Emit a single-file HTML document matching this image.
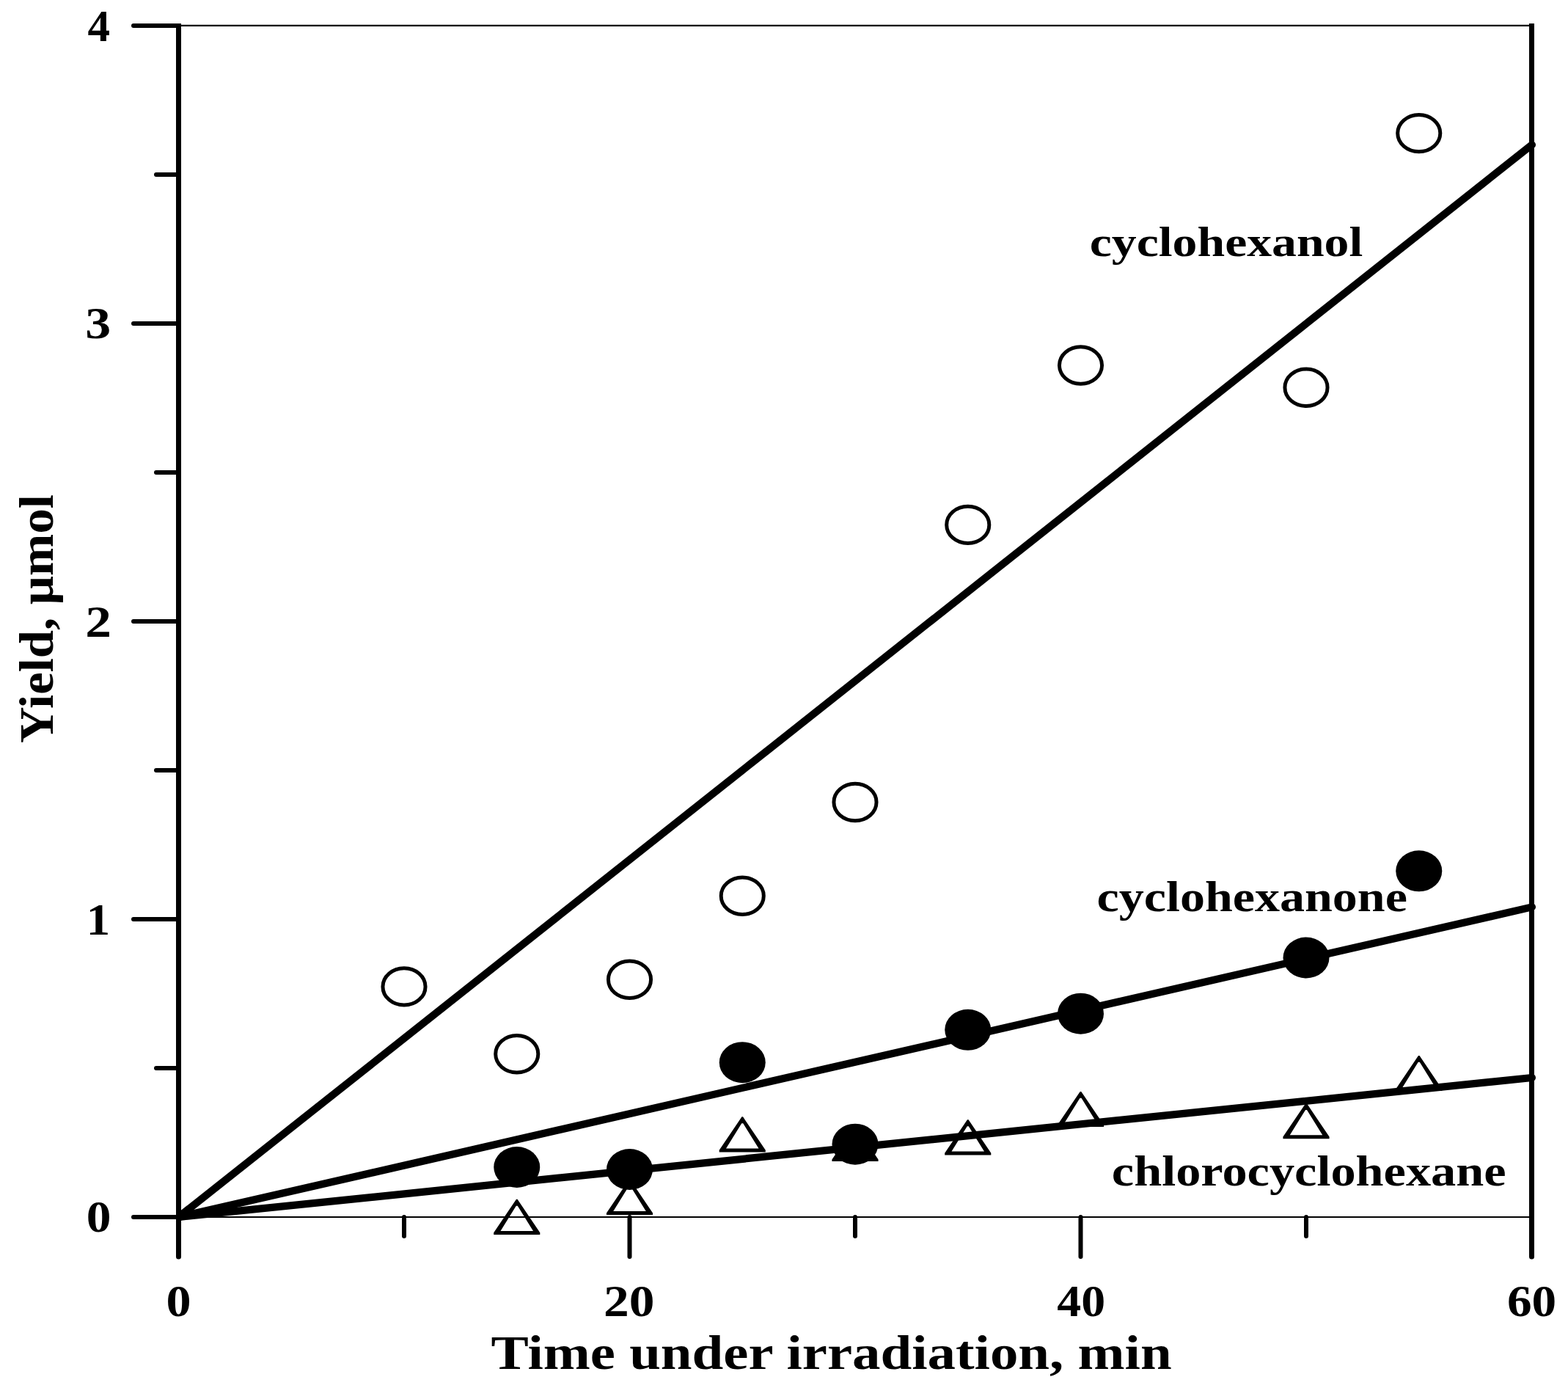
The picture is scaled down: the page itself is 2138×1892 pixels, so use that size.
<!DOCTYPE html>
<html><head><meta charset="utf-8"><title>Yield vs time</title><style>html,body{margin:0;padding:0;background:#fff;}svg{display:block;}</style></head><body>
<svg width="2138" height="1892" viewBox="0 0 2138 1892">
<rect width="2138" height="1892" fill="#fff"/>
<line x1="243.5" y1="34.8" x2="2088.5" y2="34.8" stroke="#000" stroke-width="2.2"/>
<line x1="243.5" y1="1659.0" x2="2088.5" y2="1659.0" stroke="#000" stroke-width="2.2"/>
<line x1="243.5" y1="32" x2="243.5" y2="1713" stroke="#000" stroke-width="7.0"/>
<circle cx="243.5" cy="1713" r="3.5" fill="#000"/>
<line x1="2088.5" y1="32" x2="2088.5" y2="1713" stroke="#000" stroke-width="7.0"/>
<circle cx="2088.5" cy="1713" r="3.5" fill="#000"/>
<line x1="182" y1="1659.0" x2="243.5" y2="1659.0" stroke="#000" stroke-width="6" stroke-linecap="round"/>
<line x1="182" y1="1253.0" x2="243.5" y2="1253.0" stroke="#000" stroke-width="6" stroke-linecap="round"/>
<line x1="182" y1="847.0" x2="243.5" y2="847.0" stroke="#000" stroke-width="6" stroke-linecap="round"/>
<line x1="182" y1="441.0" x2="243.5" y2="441.0" stroke="#000" stroke-width="6" stroke-linecap="round"/>
<line x1="182" y1="35.0" x2="243.5" y2="35.0" stroke="#000" stroke-width="6" stroke-linecap="round"/>
<line x1="213" y1="1456.0" x2="243.5" y2="1456.0" stroke="#000" stroke-width="6" stroke-linecap="round"/>
<line x1="213" y1="1050.0" x2="243.5" y2="1050.0" stroke="#000" stroke-width="6" stroke-linecap="round"/>
<line x1="213" y1="644.0" x2="243.5" y2="644.0" stroke="#000" stroke-width="6" stroke-linecap="round"/>
<line x1="213" y1="238.0" x2="243.5" y2="238.0" stroke="#000" stroke-width="6" stroke-linecap="round"/>
<line x1="858.5" y1="1659.0" x2="858.5" y2="1713" stroke="#000" stroke-width="6" stroke-linecap="round"/>
<line x1="1473.5" y1="1659.0" x2="1473.5" y2="1713" stroke="#000" stroke-width="6" stroke-linecap="round"/>
<line x1="551.0" y1="1659.0" x2="551.0" y2="1685" stroke="#000" stroke-width="6" stroke-linecap="round"/>
<line x1="1166.0" y1="1659.0" x2="1166.0" y2="1685" stroke="#000" stroke-width="6" stroke-linecap="round"/>
<line x1="1781.0" y1="1659.0" x2="1781.0" y2="1685" stroke="#000" stroke-width="6" stroke-linecap="round"/>
<line x1="246.5" y1="1656.62" x2="2088.9" y2="197.3" stroke="#000" stroke-width="10.2" stroke-linecap="round"/>
<line x1="246.5" y1="1658.31" x2="2088.9" y2="1236.4" stroke="#000" stroke-width="10.2" stroke-linecap="round"/>
<line x1="246.5" y1="1658.69" x2="2088.9" y2="1469.0" stroke="#000" stroke-width="10.2" stroke-linecap="round"/>
<path d="M703.95,1634.80 L705.55,1634.80 L736.30,1680.25 L736.30,1682.90 L673.20,1682.90 L673.20,1680.25 Z M703.75,1643.70 L705.75,1643.70 L727.00,1677.90 L682.50,1677.90 Z" fill="#000" fill-rule="evenodd"/>
<path d="M857.70,1607.95 L859.30,1607.95 L890.05,1653.40 L890.05,1656.05 L826.95,1656.05 L826.95,1653.40 Z M857.50,1616.85 L859.50,1616.85 L880.75,1651.05 L836.25,1651.05 Z" fill="#000" fill-rule="evenodd"/>
<path d="M1011.45,1522.35 L1013.05,1522.35 L1043.80,1567.80 L1043.80,1570.45 L980.70,1570.45 L980.70,1567.80 Z M1011.25,1531.25 L1013.25,1531.25 L1034.50,1565.45 L990.00,1565.45 Z" fill="#000" fill-rule="evenodd"/>
<path d="M1165.20,1534.95 L1166.80,1534.95 L1197.55,1580.40 L1197.55,1583.05 L1134.45,1583.05 L1134.45,1580.40 Z M1165.00,1543.85 L1167.00,1543.85 L1188.25,1578.05 L1143.75,1578.05 Z" fill="#000" fill-rule="evenodd"/>
<path d="M1318.95,1526.30 L1320.55,1526.30 L1351.30,1571.75 L1351.30,1574.40 L1288.20,1574.40 L1288.20,1571.75 Z M1318.75,1535.20 L1320.75,1535.20 L1342.00,1569.40 L1297.50,1569.40 Z" fill="#000" fill-rule="evenodd"/>
<path d="M1472.70,1487.90 L1474.30,1487.90 L1505.05,1533.35 L1505.05,1536.00 L1441.95,1536.00 L1441.95,1533.35 Z M1472.50,1496.80 L1474.50,1496.80 L1495.75,1531.00 L1451.25,1531.00 Z" fill="#000" fill-rule="evenodd"/>
<path d="M1780.20,1504.10 L1781.80,1504.10 L1812.55,1549.55 L1812.55,1552.20 L1749.45,1552.20 L1749.45,1549.55 Z M1780.00,1513.00 L1782.00,1513.00 L1803.25,1547.20 L1758.75,1547.20 Z" fill="#000" fill-rule="evenodd"/>
<path d="M1933.95,1438.95 L1935.55,1438.95 L1966.30,1484.40 L1966.30,1487.05 L1903.20,1487.05 L1903.20,1484.40 Z M1933.75,1447.85 L1935.75,1447.85 L1957.00,1482.05 L1912.50,1482.05 Z" fill="#000" fill-rule="evenodd"/>
<ellipse cx="704.75" cy="1591.0" rx="31.5" ry="28" fill="#000"/>
<ellipse cx="858.50" cy="1594.0" rx="31.5" ry="28" fill="#000"/>
<ellipse cx="1012.25" cy="1448.2" rx="31.5" ry="28" fill="#000"/>
<ellipse cx="1166.00" cy="1559.7" rx="31.5" ry="28" fill="#000"/>
<ellipse cx="1319.75" cy="1403.8" rx="31.5" ry="28" fill="#000"/>
<ellipse cx="1473.50" cy="1381.7" rx="31.5" ry="28" fill="#000"/>
<ellipse cx="1781.00" cy="1305.5" rx="31.5" ry="28" fill="#000"/>
<ellipse cx="1934.75" cy="1187.3" rx="31.5" ry="28" fill="#000"/>
<ellipse cx="551.00" cy="1344.9" rx="29.05" ry="25.2" fill="none" stroke="#000" stroke-width="5"/>
<ellipse cx="704.75" cy="1436.7" rx="29.05" ry="25.2" fill="none" stroke="#000" stroke-width="5"/>
<ellipse cx="858.50" cy="1335.2" rx="29.05" ry="25.2" fill="none" stroke="#000" stroke-width="5"/>
<ellipse cx="1012.25" cy="1221.3" rx="29.05" ry="25.2" fill="none" stroke="#000" stroke-width="5"/>
<ellipse cx="1166.00" cy="1093.5" rx="29.05" ry="25.2" fill="none" stroke="#000" stroke-width="5"/>
<ellipse cx="1319.75" cy="715.4" rx="29.05" ry="25.2" fill="none" stroke="#000" stroke-width="5"/>
<ellipse cx="1473.50" cy="498.0" rx="29.05" ry="25.2" fill="none" stroke="#000" stroke-width="5"/>
<ellipse cx="1781.00" cy="528.3" rx="29.05" ry="25.2" fill="none" stroke="#000" stroke-width="5"/>
<ellipse cx="1934.75" cy="181.6" rx="29.05" ry="25.2" fill="none" stroke="#000" stroke-width="5"/>
<text transform="translate(119.39,55.8) scale(0.9876,1)" font-family="'Liberation Serif', 'Times New Roman', serif" font-weight="bold" font-size="61.82">4</text>
<text transform="translate(116.35,461.3) scale(1.1361,1)" font-family="'Liberation Serif', 'Times New Roman', serif" font-weight="bold" font-size="61.52">3</text>
<text transform="translate(116.14,867.9) scale(1.1470,1)" font-family="'Liberation Serif', 'Times New Roman', serif" font-weight="bold" font-size="62.27">2</text>
<text transform="translate(117.81,1274.0) scale(1.0442,1)" font-family="'Liberation Serif', 'Times New Roman', serif" font-weight="bold" font-size="62.12">1</text>
<text transform="translate(117.64,1678.5) scale(1.1074,1)" font-family="'Liberation Serif', 'Times New Roman', serif" font-weight="bold" font-size="60.90">0</text>
<text transform="translate(226.62,1793.5) scale(1.1188,1)" font-family="'Liberation Serif', 'Times New Roman', serif" font-weight="bold" font-size="60.90">0</text>
<text transform="translate(823.02,1793.5) scale(1.1358,1)" font-family="'Liberation Serif', 'Times New Roman', serif" font-weight="bold" font-size="61.20">20</text>
<text transform="translate(1441.24,1793.5) scale(1.0805,1)" font-family="'Liberation Serif', 'Times New Roman', serif" font-weight="bold" font-size="61.05">40</text>
<text transform="translate(2054.88,1793.5) scale(1.1064,1)" font-family="'Liberation Serif', 'Times New Roman', serif" font-weight="bold" font-size="60.90">60</text>
<text transform="translate(1485.77,348.8) scale(1.1746,1)" font-family="'Liberation Serif', 'Times New Roman', serif" font-weight="bold" font-size="57.68">cyclohexanol</text>
<text transform="translate(1495.56,1242.4) scale(1.1621,1)" font-family="'Liberation Serif', 'Times New Roman', serif" font-weight="bold" font-size="58.55">cyclohexanone</text>
<text transform="translate(1515.85,1616.3) scale(1.1672,1)" font-family="'Liberation Serif', 'Times New Roman', serif" font-weight="bold" font-size="58.55">chlorocyclohexane</text>
<text transform="translate(669.55,1865.9) scale(1.1649,1)" font-family="'Liberation Serif', 'Times New Roman', serif" font-weight="bold" font-size="66.00">Time under irradiation, min</text>
<text transform="translate(71.9,1013.03) rotate(-90) scale(1.0345,1)" font-family="'Liberation Serif', 'Times New Roman', serif" font-weight="bold" font-size="66.50">Yield, µmol</text>
</svg>
</body></html>
